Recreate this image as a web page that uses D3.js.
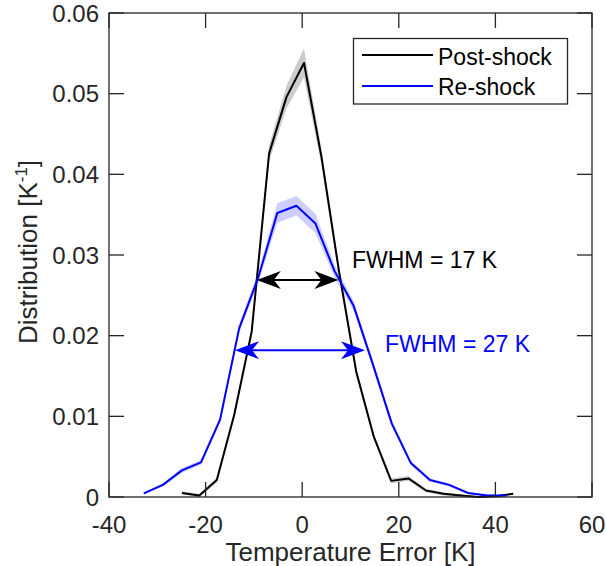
<!DOCTYPE html>
<html>
<head>
<meta charset="utf-8">
<script src="https://cdn.jsdelivr.net/npm/d3@7"></script>
<style>
  body { margin: 0; background: #fff; }
  svg text { font-family: "Liberation Sans", Arial, sans-serif; }
</style>
</head>
<body>
<svg id="chart" width="606" height="566"></svg>
<script>
"use strict";

// Post-shock (black) histogram
const postX = [-24.9, -21.29, -17.68, -14.07, -10.46, -6.85, -3.24, 0.37, 3.98, 7.59,
  11.2, 14.81, 18.42, 22.03, 25.64, 29.25, 32.86, 36.47, 40.08, 43.69];
const postY = [0.0005, 0.0002, 0.0021, 0.0102, 0.0205, 0.0426, 0.0496, 0.0538, 0.0422, 0.0281,
  0.0155, 0.0075, 0.0020, 0.0023, 0.0008, 0.0004, 0.0002, 0.0000, 0.0001, 0.0004];
const postErr = [0.0002, 0.0002, 0.0003, 0.0004, 0.0006, 0.0010, 0.0014, 0.0018, 0.0010, 0.0007,
  0.0005, 0.0004, 0.0003, 0.0003, 0.0002, 0.0002, 0.0001, 0.0001, 0.0001, 0.0001];

// Re-shock (blue) histogram
const reX = [-32.8, -28.85, -24.9, -20.95, -17.0, -13.05, -9.1, -5.15, -1.2, 2.75,
  6.7, 10.65, 14.6, 18.55, 22.5, 26.45, 30.4, 34.35, 38.3, 42.25];
const reY = [0.00045, 0.0015, 0.0033, 0.0043, 0.0096, 0.0209, 0.0272, 0.0352, 0.0361, 0.0339,
  0.0280, 0.0237, 0.0165, 0.0091, 0.0042, 0.0021, 0.0015, 0.0005, 0.0002, 0.0002];
const reErr = [0.0001, 0.0002, 0.0003, 0.0003, 0.0004, 0.0005, 0.0007, 0.0012, 0.0012, 0.0012,
  0.0008, 0.0006, 0.0005, 0.0004, 0.0003, 0.0002, 0.0002, 0.0001, 0.0001, 0.0001];

const xTicks = [-40, -20, 0, 20, 40, 60];
const yTicks = [0, 0.01, 0.02, 0.03, 0.04, 0.05, 0.06];

const seriesNames = ['Post-shock', 'Re-shock'];
// FWHM annotations: [left x, right x, height]
const fwhmPost = [-9.4, 7.5, 0.0269];
const fwhmRe = [-13.9, 13.0, 0.0182];
const fwhmLabels = ['FWHM = 17 K', 'FWHM = 27 K'];

const margin = { top: 13, left: 109, right: 14, bottom: 69 };
const width = 606, height = 566;
const axisColor = '#262626';

const svg = d3.select('#chart');

let x = d3.scaleLinear().domain([-40, 60]).range([margin.left, width - margin.right]);
let y = d3.scaleLinear().domain([0, 0.06]).range([height - margin.bottom, margin.top]);

let post = postX.map((v, i) => ({ x: v, y: postY[i], e: postErr[i] }));
let re = reX.map((v, i) => ({ x: v, y: reY[i], e: reErr[i] }));

let area = d3.area()
  .x(d => x(d.x))
  .y0(d => y(Math.max(0, d.y - d.e)))
  .y1(d => y(d.y + d.e));

let line = d3.line()
  .x(d => x(d.x))
  .y(d => y(d.y));

// shaded bands
svg.append('path').datum(post).attr('d', area).attr('fill', '#cccccc');
svg.append('path').datum(re).attr('d', area).attr('fill', '#ccccff').attr('fill-opacity', 0.95);

svg.append('path').datum(post).attr('d', line)
  .attr('fill', 'none').attr('stroke', '#000').attr('stroke-width', 2).attr('stroke-linejoin', 'round');
svg.append('path').datum(re).attr('d', line)
  .attr('fill', 'none').attr('stroke', '#0000ff').attr('stroke-width', 2).attr('stroke-linejoin', 'round');

// axes box with inward ticks
let tickLen = 15;
let gAx = svg.append('g').attr('stroke', axisColor).attr('stroke-width', 1.3);
gAx.append('rect')
  .attr('x', x(-40)).attr('y', y(0.06))
  .attr('width', x(60) - x(-40)).attr('height', y(0) - y(0.06))
  .attr('fill', 'none');

xTicks.forEach(t => {
  gAx.append('line').attr('x1', x(t)).attr('x2', x(t)).attr('y1', y(0)).attr('y2', y(0) - tickLen);
  gAx.append('line').attr('x1', x(t)).attr('x2', x(t)).attr('y1', y(0.06)).attr('y2', y(0.06) + tickLen);
});
yTicks.forEach(t => {
  gAx.append('line').attr('x1', x(-40)).attr('x2', x(-40) + tickLen).attr('y1', y(t)).attr('y2', y(t));
  gAx.append('line').attr('x1', x(60)).attr('x2', x(60) - tickLen).attr('y1', y(t)).attr('y2', y(t));
});

svg.append('g').selectAll('text')
  .data(xTicks)
  .enter()
  .append('text')
  .attr('x', d => x(d))
  .attr('y', 533)
  .attr('text-anchor', 'middle')
  .attr('font-size', 24)
  .attr('fill', axisColor)
  .text(d => d);

svg.append('g').selectAll('text')
  .data(yTicks)
  .enter()
  .append('text')
  .attr('x', 99)
  .attr('y', d => y(d))
  .attr('dy', '0.36em')
  .attr('text-anchor', 'end')
  .attr('font-size', 24)
  .attr('fill', axisColor)
  .text(d => d === 0 ? '0' : d3.format('.2f')(d));

// axis labels
svg.append('text')
  .attr('x', (x(-40) + x(60)) / 2)
  .attr('y', 561)
  .attr('text-anchor', 'middle')
  .attr('font-size', 26)
  .attr('fill', axisColor)
  .text('Temperature Error [K]');

let yl = svg.append('text')
  .attr('transform', 'translate(37,' + ((y(0) + y(0.06)) / 2 - 3) + ') rotate(-90)')
  .attr('text-anchor', 'middle')
  .attr('font-size', 26)
  .attr('fill', axisColor);
yl.append('tspan').text('Distribution [K');
yl.append('tspan').attr('font-size', 17).attr('dy', -10).text('-1');
yl.append('tspan').attr('dy', 10).text(']');

// FWHM arrows
function doubleArrow(spec, color) {
  let x1 = x(spec[0]), x2 = x(spec[1]), yy = y(spec[2]);
  let L = 24, W = 9, N = 17;
  let g = svg.append('g');
  g.append('line').attr('x1', x1 + N).attr('x2', x2 - N).attr('y1', yy).attr('y2', yy)
    .attr('stroke', color).attr('stroke-width', 2);
  g.append('path')
    .attr('d', 'M' + x1 + ',' + yy + 'L' + (x1 + L) + ',' + (yy - W) + 'L' + (x1 + N) + ',' + yy +
      'L' + (x1 + L) + ',' + (yy + W) + 'Z')
    .attr('fill', color);
  g.append('path')
    .attr('d', 'M' + x2 + ',' + yy + 'L' + (x2 - L) + ',' + (yy - W) + 'L' + (x2 - N) + ',' + yy +
      'L' + (x2 - L) + ',' + (yy + W) + 'Z')
    .attr('fill', color);
}
doubleArrow(fwhmPost, '#000');
doubleArrow(fwhmRe, '#0000ff');

svg.append('text').attr('x', 352).attr('y', 268).attr('font-size', 23).attr('fill', '#000').text(fwhmLabels[0]);
svg.append('text').attr('x', 385).attr('y', 352).attr('font-size', 23).attr('fill', '#0000ff').text(fwhmLabels[1]);

// legend
let lg = svg.append('g');
lg.append('rect').attr('x', 353.5).attr('y', 38.5).attr('width', 214).attr('height', 65.5)
  .attr('fill', '#fff').attr('stroke', axisColor).attr('stroke-width', 1.3);
[['#000', 55, 65], ['#0000ff', 86, 95]].forEach((s, i) => {
  lg.append('line').attr('x1', 362).attr('x2', 433).attr('y1', s[1]).attr('y2', s[1])
    .attr('stroke', s[0]).attr('stroke-width', 2);
  lg.append('text').attr('x', 438).attr('y', s[2]).attr('font-size', 23).attr('fill', '#000')
    .text(seriesNames[i]);
});
</script>
</body>
</html>
